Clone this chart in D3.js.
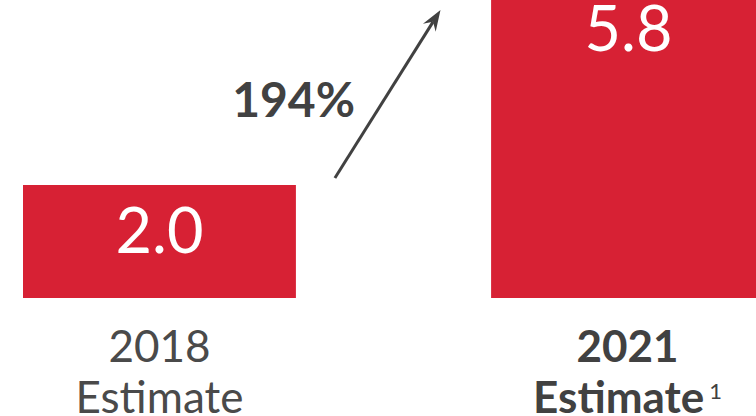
<!DOCTYPE html>
<html><head><meta charset="utf-8">
<script src="https://cdn.jsdelivr.net/npm/d3@7"></script>
<style>
html,body{margin:0;padding:0;background:#fff;overflow:hidden}
svg{display:block;font-family:Lato,"Open Sans",sans-serif}
</style></head>
<body>
<svg id="c" width="756" height="416"></svg>
<script>
const categories = ["2018", "2021"];
const subLabels = ["Estimate", "Estimate"];
const footnotes = ["", "1"];
const values = [2.0, 5.8];
const valueLabels = ["2.0", "5.8"];
const growthLabel = "194%";

const svg = d3.select("#c");
const red = "#d72134";
const dark = "#414141";

const x = d3.scaleBand().domain(categories).range([23, 764]).paddingInner(0.417).paddingOuter(0);
const y = d3.scaleLinear().domain([0, 2]).range([298, 185]);

svg.selectAll("rect.bar").data(values).join("rect")
  .attr("class", "bar")
  .attr("x", (d, i) => x(categories[i]))
  .attr("width", x.bandwidth())
  .attr("y", d => y(d))
  .attr("height", d => y(0) - y(d))
  .attr("fill", red);

// value labels inside bars, near top
svg.selectAll("text.val").data(values).join("text")
  .attr("class", "val")
  .attr("x", (d, i) => x(categories[i]) + x.bandwidth() / 2 + (i === 1 ? 1 : 0))
  .attr("y", (d, i) => i === 0 ? y(d) + 68 : 51)
  .attr("text-anchor", "middle")
  .attr("fill", "#fff")
  .attr("font-size", 63)
  .attr("font-weight", 400)
  .text((d, i) => valueLabels[i]);

// category labels
const lab = svg.selectAll("g.lab").data(categories).join("g").attr("class", "lab");
lab.append("text")
  .attr("x", d => x(d) + x.bandwidth() / 2)
  .attr("y", 362)
  .attr("text-anchor", "middle")
  .attr("fill", (d, i) => i === 1 ? dark : "#4a4a4a")
  .attr("font-size", 44)
  .attr("font-weight", (d, i) => i === 1 ? 700 : 400)
  .text(d => d);
lab.append("text")
  .attr("x", d => x(d) + x.bandwidth() / 2)
  .attr("y", 413)
  .attr("text-anchor", "middle")
  .attr("fill", (d, i) => i === 1 ? dark : "#4a4a4a")
  .attr("font-size", 44)
  .attr("font-weight", (d, i) => i === 1 ? 700 : 400)
  .each(function(d, i) {
    const t = d3.select(this);
    t.append("tspan").text(subLabels[i]);
    if (footnotes[i]) {
      t.append("tspan").attr("font-weight", 400).attr("font-size", 22)
        .attr("dx", 5).attr("dy", -14).text(footnotes[i]);
    }
  });

// growth arrow
const x1 = x(categories[0]) + x.bandwidth() + 39;
const y1 = y(values[0]) - 7;
const x2 = 440.5, y2 = 10;
const ang = Math.atan2(y2 - y1, x2 - x1);
const hl = 21, hw = 7.5, notch = 14;
const ux = Math.cos(ang), uy = Math.sin(ang);
const px = -uy, py = ux;
svg.append("line")
  .attr("x1", x1).attr("y1", y1)
  .attr("x2", x2 - ux * notch).attr("y2", y2 - uy * notch)
  .attr("stroke", dark).attr("stroke-width", 3);
const head = [
  [x2, y2],
  [x2 - ux * hl + px * hw, y2 - uy * hl + py * hw],
  [x2 - ux * notch, y2 - uy * notch],
  [x2 - ux * hl - px * hw, y2 - uy * hl - py * hw]
];
svg.append("path").attr("d", d3.line()(head) + "Z").attr("fill", dark);

svg.append("text")
  .attr("x", 355).attr("y", 117)
  .attr("text-anchor", "end")
  .attr("fill", dark)
  .attr("font-size", 48)
  .attr("font-weight", 700)
  .text(growthLabel);
</script>
</body></html>
